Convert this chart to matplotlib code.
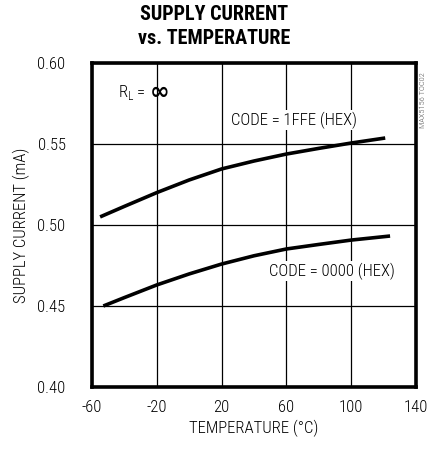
import matplotlib
matplotlib.use('Agg')
import matplotlib.pyplot as plt
from matplotlib import font_manager

# narrow sans close to the datasheet typeface, first one that is installed
installed = {f.name for f in font_manager.fontManager.ttflist}
narrow = next((n for n in ['Liberation Sans Narrow', 'Arial Narrow', 'Roboto Condensed',
                           'PT Sans Narrow', 'Archivo Narrow', 'Liberation Sans']
               if n in installed), 'DejaVu Sans')
plt.rcParams['font.family'] = [narrow, 'DejaVu Sans']
plt.rcParams['font.weight'] = 'light'
plt.rcParams['axes.labelweight'] = 'light'
plt.rcParams['mathtext.fontset'] = 'custom'
plt.rcParams['mathtext.rm'] = narrow + ':light'

# supply current vs temperature, two input codes
temp_1ffe = [-55, -40, -20, 0, 20, 40, 60, 80, 100, 121]
curr_1ffe = [0.505, 0.5115, 0.520, 0.5278, 0.5346, 0.5395, 0.5438, 0.5473, 0.5506, 0.5537]

temp_0000 = [-53, -40, -20, 0, 20, 40, 60, 80, 100, 124]
curr_0000 = [0.450, 0.4552, 0.4630, 0.4698, 0.4759, 0.4810, 0.4852, 0.4880, 0.4907, 0.4932]

xticks = [-60, -20, 20, 60, 100, 140]
yticks = [0.40, 0.45, 0.50, 0.55, 0.60]

fs = 12

fig = plt.figure(figsize=(4.29, 4.53), dpi=100)
ax = fig.add_axes([92/429, 1 - 387/453, 324/429, 324/453])

ax.plot(temp_1ffe, curr_1ffe, color='black', lw=2.6, solid_capstyle='butt')
ax.plot(temp_0000, curr_0000, color='black', lw=2.6, solid_capstyle='butt')

ax.set_xlim(-60, 140)
ax.set_ylim(0.40, 0.60)
ax.set_xticks(xticks)
ax.set_yticks(yticks)
ax.set_xticklabels([f'{t}' for t in xticks])
ax.set_yticklabels([f'{v:.2f}' for v in yticks])
ax.tick_params(length=0, labelsize=fs, colors='black')
ax.tick_params(axis='x', pad=9)
ax.tick_params(axis='y', pad=19)
ax.grid(True, color='black', lw=0.9)
for s in ax.spines.values():
    s.set_linewidth(2.6)

ax.set_xlabel('TEMPERATURE (°C)', fontsize=fs, va='center')
ax.set_ylabel('SUPPLY CURRENT (mA)', fontsize=fs, va='center')
ax.xaxis.set_label_coords(0.5, -0.127)
ax.yaxis.set_label_coords(-0.219, 0.5)

ax.text(-44, 0.5815, r'R$_\mathregular{L}$ =', fontsize=fs, va='center', ha='left')
ax.text(-24.5, 0.5818, '∞', fontsize=17, va='center', ha='left', weight='bold',
        family='DejaVu Sans')
ax.text(25.5, 0.5648, 'CODE = 1FFE (HEX)', fontsize=fs, va='center', ha='left',
        bbox=dict(facecolor='white', edgecolor='none', pad=1))
ax.text(49.5, 0.4716, 'CODE = 0000 (HEX)', fontsize=fs, va='center', ha='left',
        bbox=dict(facecolor='white', edgecolor='none', pad=1))

fig.text(0.5, 1 - 14/453, 'SUPPLY CURRENT', fontsize=14.5, weight='bold', ha='center', va='center')
fig.text(0.5, 1 - 39/453, 'vs. TEMPERATURE', fontsize=14.5, weight='bold', ha='center', va='center')
fig.text(423/429, 1 - 100/453, 'MAX5156 TOC02', fontsize=6, color='#555555', rotation=90,
         ha='center', va='center')

fig.savefig('out.png', dpi=100)
